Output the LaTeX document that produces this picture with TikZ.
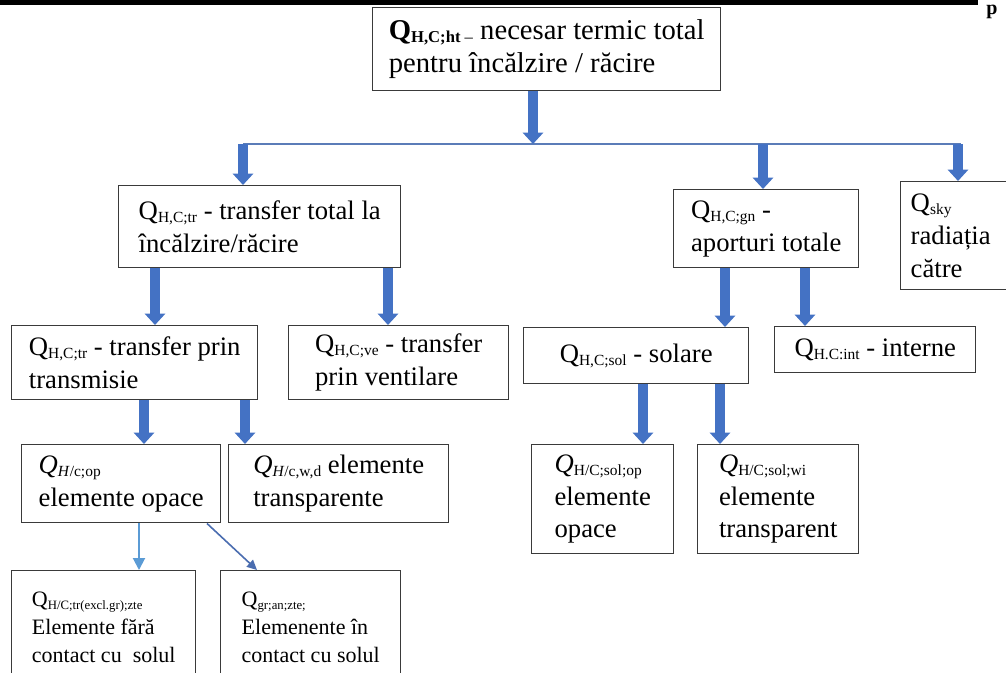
\documentclass[tikz,border=0pt]{standalone}
\usepackage{fontspec}
\setmainfont{Liberation Serif}
\usepackage{graphicx}
\usetikzlibrary{arrows.meta}
\definecolor{abl}{HTML}{4472C4}
\definecolor{lbl}{HTML}{5B9BD5}
\definecolor{dbl}{HTML}{4A6DB0}
\definecolor{barc}{HTML}{5B7CB8}
\definecolor{bord}{HTML}{3A3A3A}
\newcommand\qs[1]{\raisebox{-0.1em}{\scalebox{0.58}{#1}}}
\begin{document}
\begin{tikzpicture}[x=0.75pt,y=-0.75pt,
  box/.style={draw=bord, line width=1.1pt, fill=white, anchor=north west, align=left,
    inner sep=0pt, font=\fontsize{20}{24.5}\selectfont},
  sbox/.style={box, font=\fontsize{16.5}{21}\selectfont},
  sz/.style 2 args={minimum width=#1*0.75pt, minimum height=#2*0.75pt},
  tarr/.style={draw=abl, line width=7.5pt, -{Triangle[width=15pt,length=8.5pt]}},
  larr/.style={draw=lbl, line width=1.5pt, -{Triangle[width=9pt,length=9pt]}},
  darr/.style={draw=dbl, line width=1.2pt, -{Triangle[width=7pt,length=7.5pt]}},
  barline/.style={draw=barc, line width=1.8pt},
  rule/.style={draw=black, line width=3.75pt}]
\path[use as bounding box, clip] (0,0) rectangle (1006,672);
\fill[white] (0,0) rectangle (1006,672);
% header rule and page number fragment
\draw[rule] (0,2.5) -- (978,2.5);
\node (pg) [anchor=base, inner sep=0pt, font=\bfseries\fontsize{15}{15}\selectfont] at (992,14) {p};
% boxes
\node (T) [box, sz={348}{83}, font=\fontsize{21.5}{25}\selectfont] at (372,7)
  {\textbf{Q}\qs{\textbf{H,C;ht} –} necesar termic total\\pentru încălzire / răcire};
\node (A) [box, sz={282}{82}] at (118,185)
  {Q\qs{H,C;tr} - transfer total la\\încălzire/răcire};
\node (G) [box, sz={185}{78}] at (673,189)
  {Q\qs{H,C;gn} -\\aporturi totale};
\node (S) [box, minimum height=108*0.75pt, text width=71.25pt, inner xsep=7.5pt] at (900,181)
  {Q\qs{sky}\\radiația\\către};
\node (Tm) [box, sz={246}{74}] at (11,325)
  {Q\qs{H,C;tr} - transfer prin\\transmisie};
\node (V) [box, sz={220}{74}] at (288,325)
  {Q\qs{H,C;ve} - transfer\\prin ventilare};
\node (Sol) [box, sz={225}{56}] at (523,327)
  {Q\qs{H,C;sol} - solare};
\node (I) [box, sz={201}{46}] at (774,326)
  {Q\qs{H.C:int} - interne};
\node (Op) [box, sz={199}{78}] at (21,444)
  {\textit{Q}\qs{\textit{H}/c;op}\\elemente opace};
\node (Wd) [box, sz={220}{78}] at (228,444)
  {\textit{Q}\qs{\textit{H}/c,w,d} elemente\\transparente};
\node (SO) [box, sz={142}{109}] at (531,444)
  {\textit{Q}\qs{H/C;sol;op}\\elemente\\opace};
\node (SW) [box, sz={161}{109}] at (697,444)
  {\textit{Q}\qs{H/C;sol;wi}\\elemente\\transparent};
\node (BL) [sbox, sz={184}{114}] at (11,570)
  {Q\qs{H/C;tr(excl.gr);zte}\\Elemente fără\\contact cu\ \ solul};
\node (BR) [sbox, sz={180}{114}] at (220,570)
  {Q\qs{gr;an;zte;}\\Elemenente în\\contact cu solul};
% distribution bar
\coordinate (bl) at (243,144);
\coordinate (br) at (961,144);
\coordinate (bm) at (533,144);
\coordinate (bg) at (763,144);
\coordinate (bs) at (958,144);
\draw[barline] (bl) -- (br);
\draw[tarr] (T.south -| bm) -- (bm);
\draw[tarr] (bl) -- (bl |- A.north);
\draw[tarr] (bg) -- (bg |- G.north);
\draw[tarr] (bs) -- (bs |- S.north);
% second level
\draw[tarr] (155,0 |- A.south) -- (155,0 |- Tm.north);
\draw[tarr] (388,0 |- A.south) -- (388,0 |- V.north);
\draw[tarr] (725,0 |- G.south) -- (725,0 |- Sol.north);
\draw[tarr] (805,0 |- G.south) -- (805,0 |- I.north);
% third level
\draw[tarr] (144,0 |- Tm.south) -- (144,0 |- Op.north);
\draw[tarr] (245,0 |- Tm.south) -- (245,0 |- Wd.north);
\draw[tarr] (643,0 |- Sol.south) -- (643,0 |- SO.north);
\draw[tarr] (720,0 |- Sol.south) -- (720,0 |- SW.north);
% fourth level
\draw[larr] (139,0 |- Op.south) -- (139,0 |- BL.north);
\draw[darr] (207,0 |- Op.south) -- (257,0 |- BR.north);
\end{tikzpicture}
\end{document}
